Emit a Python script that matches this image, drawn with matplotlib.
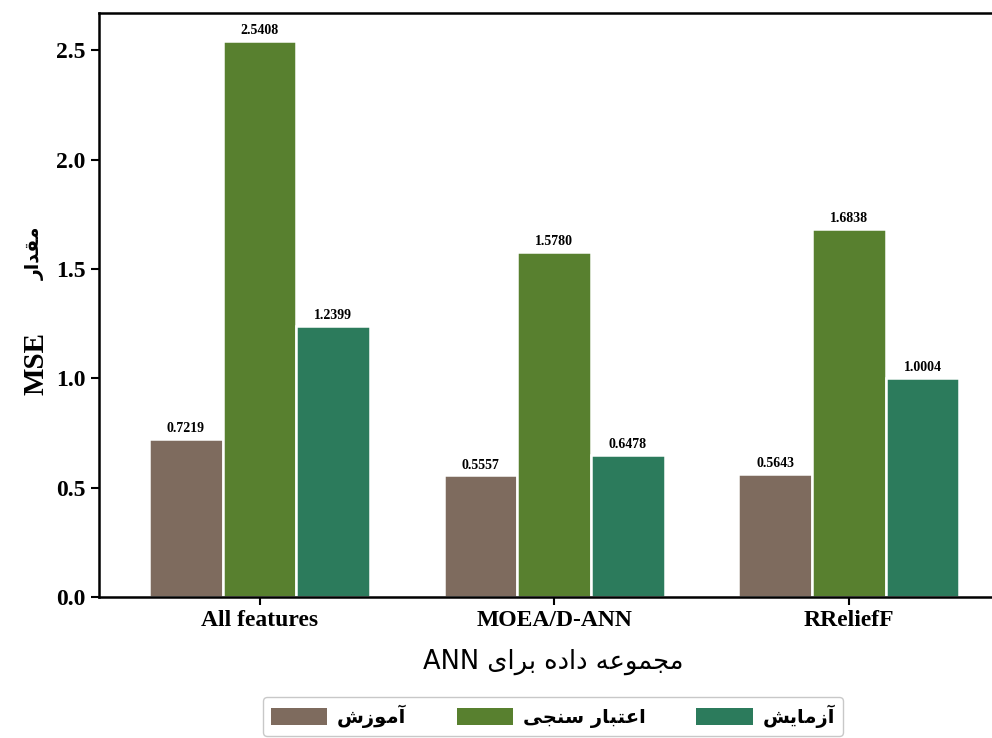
import matplotlib
matplotlib.use("Agg")
import matplotlib.pyplot as plt
import numpy as np
from matplotlib.patches import Patch

categories = ["All features", "MOEA/D-ANN", "RReliefF"]
train_vals = [0.7219, 0.5557, 0.5643]
valid_vals = [2.5408, 1.5780, 1.6838]
test_vals = [1.2399, 0.6478, 1.0004]
yticks = [0.0, 0.5, 1.0, 1.5, 2.0, 2.5]

# Persian strings in visual (left-to-right) order using presentation forms
lbl_train = "\uFEB5\uFEAF\uFEEE\uFEE3\uFE81"                      # آموزش
lbl_valid = "\uFEF0\uFEA0\uFEE8\uFEB3 \uFEAD\uFE8E\uFE92\uFE98\uFECB\uFE8D"  # اعتبار سنجی
lbl_test = "\uFEB6\uFEF3\uFE8E\uFEE3\uFEAF\uFE81"                 # آزمایش
ylab_fa = "\uFEAD\uFE8D\uFEAA\uFED8\uFEE3"                         # مقدار
xlab = "ANN " + "\uFEEF\uFE8D\uFEAE\uFE91" + " " + "\uFEE9\uFEA9\uFE8D\uFEA9" + " " + "\uFEEA\uFECB\uFEEE\uFEE4\uFEA0\uFEE3"

c_train = "#7e6b5e"
c_valid = "#58802f"
c_test = "#2c7b5c"

fig = plt.figure(figsize=(9.92, 7.38), dpi=100)
L, B, T = 99 / 992, 1 - 597 / 738, 1 - 13 / 738
ax = fig.add_axes([L, B, 1.04 - L, T - B])

x = np.arange(len(categories))
w = 0.25
serif = ["Liberation Serif", "DejaVu Sans"]
groups = [(train_vals, c_train, -w), (valid_vals, c_valid, 0.0), (test_vals, c_test, w)]
for vals, col, off in groups:
    bars = ax.bar(x + off, vals, width=w, color=col, edgecolor="white", linewidth=1.8)
    for b, v in zip(bars, vals):
        ax.text(b.get_x() + b.get_width() / 2, v + 0.018, f"{v:.4f}", ha="center", va="bottom",
                fontsize=10, fontweight="bold", family=serif)

ax.set_xlim(-0.545, 2.62)
ax.set_ylim(0, 2.67)
ax.set_yticks(yticks)
ax.set_yticklabels([f"{t:.1f}" for t in yticks], fontsize=17, fontweight="bold", family=serif)
ax.set_xticks(x)
ax.set_xticklabels(categories, fontsize=17, fontweight="bold", family=serif)
ax.tick_params(axis="both", width=1.5, length=6, color="black")
for s in ax.spines.values():
    s.set_linewidth(1.8)

ax.text(-0.068, 0.40, "MSE", transform=ax.transAxes, rotation=90, ha="center", va="center",
        fontsize=21, fontweight="bold", family=serif)
ax.text(-0.068, 0.588, ylab_fa, transform=ax.transAxes, rotation=90, ha="center", va="center",
        fontsize=13.5, fontweight="bold", family=["DejaVu Sans"])

fig.text(553 / 992, 1 - 662 / 738, xlab, ha="center", va="center", fontsize=18.5,
         family=["DejaVu Sans"])

handles = [Patch(facecolor=c_train), Patch(facecolor=c_valid), Patch(facecolor=c_test)]
leg = fig.legend(handles, [lbl_train, lbl_valid, lbl_test], loc="upper center",
                 bbox_to_anchor=(553 / 992, 1 - 697 / 738), ncol=3, frameon=True,
                 prop={"family": "DejaVu Sans", "weight": "bold", "size": 14},
                 handlelength=2.9, handleheight=0.95, handletextpad=0.5, columnspacing=2.6,
                 borderpad=0.4, borderaxespad=0.0, fancybox=True, edgecolor="#bbbbbb")

fig.savefig("out.png", dpi=100)
